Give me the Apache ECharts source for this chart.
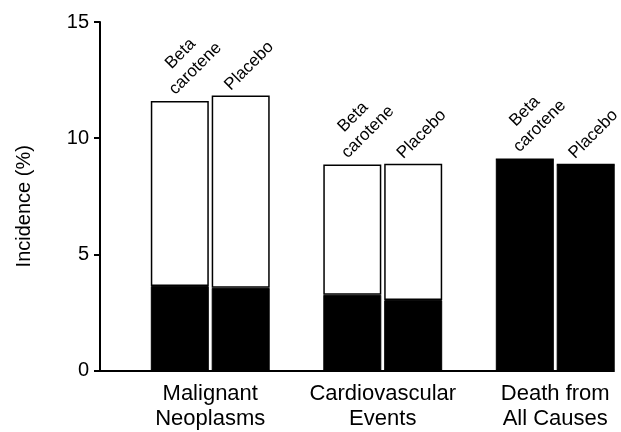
<!DOCTYPE html>
<html>
<head>
<meta charset="utf-8">
<script src="https://cdn.jsdelivr.net/npm/echarts@6/dist/echarts.min.js"></script>
<style>
html,body{margin:0;padding:0;background:#fff;}
#chart{width:621px;height:432px;}
</style>
</head>
<body>
<div id="chart"></div>
<script>
// Data
const categories = ['Malignant\nNeoplasms', 'Cardiovascular\nEvents', 'Death from\nAll Causes'];
const betaTotal = [11.6, 8.87, 9.09];
const betaBlack = [3.64, 3.26, 9.09];
const placeboTotal = [11.84, 8.9, 8.87];
const placeboBlack = [3.56, 3.03, 8.87];
const yTicks = [0, 5, 10, 15];
const groupLabels = ['Beta\ncarotene', 'Placebo'];

const betaWhite = betaTotal.map((v, i) => +(v - betaBlack[i]).toFixed(2));
const placeboWhite = placeboTotal.map((v, i) => +(v - placeboBlack[i]).toFixed(2));

const FONT = 'Liberation Sans, Arial, Helvetica, sans-serif';
const chart = echarts.init(document.getElementById('chart'), null, {renderer: 'canvas'});

function topLabel(text, pos) {
  return {
    show: true,
    position: pos,
    rotate: 45,
    align: 'center',
    verticalAlign: 'bottom',
    formatter: text,
    color: '#000',
    fontFamily: FONT,
    fontSize: 17,
    lineHeight: 21
  };
}

const option = {
  animation: false,
  backgroundColor: '#fff',
  grid: [
    {left: 124, width: 517.5, top: 22, bottom: 61.5, outerBoundsMode: 'none', containLabel: false},
    {left: 100, right: 7, top: 22, bottom: 61.5, outerBoundsMode: 'none', containLabel: false}
  ],
  xAxis: [
    {
      type: 'category', gridIndex: 0, data: categories,
      axisLine: {show: false}, axisTick: {show: false},
      axisLabel: {interval: 0, color: '#000', fontFamily: FONT, fontSize: 22, lineHeight: 25, margin: 11}
    },
    {
      type: 'value', gridIndex: 1, min: 0, max: 1,
      axisLine: {show: true, onZero: false, lineStyle: {color: '#000', width: 2}},
      axisTick: {show: false}, axisLabel: {show: false}, splitLine: {show: false}
    }
  ],
  yAxis: [
    {
      type: 'value', gridIndex: 0, min: yTicks[0], max: yTicks[yTicks.length - 1], interval: 5,
      show: false
    },
    {
      type: 'value', gridIndex: 1, min: yTicks[0], max: yTicks[yTicks.length - 1], interval: 5,
      name: 'Incidence (%)', nameLocation: 'middle', nameGap: 66,
      nameTextStyle: {color: '#000', fontFamily: FONT, fontSize: 20, padding: [0, 20, 0, 0]},
      axisLine: {show: true, onZero: false, lineStyle: {color: '#000', width: 2}},
      axisTick: {show: true, inside: false, length: 6, lineStyle: {color: '#000', width: 2}},
      axisLabel: {color: '#000', fontFamily: FONT, fontSize: 20, margin: 11},
      splitLine: {show: false}
    }
  ],
  series: [
    {
      type: 'bar', xAxisIndex: 0, yAxisIndex: 0, stack: 'beta', data: betaBlack,
      barWidth: 58, barGap: '5%',
      itemStyle: {color: '#000', borderColor: '#000', borderWidth: 1}
    },
    {
      type: 'bar', xAxisIndex: 0, yAxisIndex: 0, stack: 'beta', data: betaWhite,
      barWidth: 58, barGap: '5%',
      itemStyle: {color: '#fff', borderColor: '#000', borderWidth: 1.5},
      label: topLabel(groupLabels[0], [52, -25])
    },
    {
      type: 'bar', xAxisIndex: 0, yAxisIndex: 0, stack: 'placebo', data: placeboBlack,
      barWidth: 58, barGap: '5%',
      itemStyle: {color: '#000', borderColor: '#000', borderWidth: 1}
    },
    {
      type: 'bar', xAxisIndex: 0, yAxisIndex: 0, stack: 'placebo', data: placeboWhite,
      barWidth: 58, barGap: '5%',
      itemStyle: {color: '#fff', borderColor: '#000', borderWidth: 1.5},
      label: topLabel(groupLabels[1], [45, -22])
    }
  ]
};
chart.setOption(option);
</script>
</body>
</html>
